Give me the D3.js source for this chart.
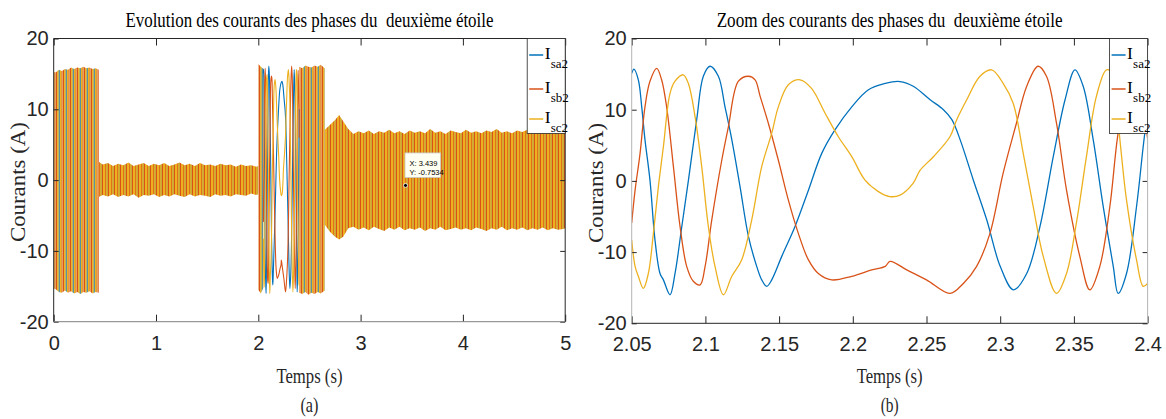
<!DOCTYPE html>
<html>
<head>
<meta charset="utf-8">
<script src="https://cdn.jsdelivr.net/npm/d3@7/dist/d3.min.js"></script>
<style>
body { margin: 0; background: #fff; }
svg { display: block; }
</style>
</head>
<body>
<script>
// ---- values ----
var phaseNames = ["sa2", "sb2", "sc2"];
var phaseColors = ["#0072BD", "#D95319", "#EDB120"];

// panel (a): x / y ticks
var xTicksA = [0, 1, 2, 3, 4, 5];
var xLabelsA = ["0", "1", "2", "3", "4", "5"];
var yTicks = [-20, -10, 0, 10, 20];
var yLabels = ["-20", "-10", "0", "10", "20"];
// panel (b): x ticks
var xTicksB = [2.05, 2.1, 2.15, 2.2, 2.25, 2.3, 2.35, 2.4];
var xLabelsB = ["2.05", "2.1", "2.15", "2.2", "2.25", "2.3", "2.35", "2.4"];

// zoom window 2.05..2.4 s : [t, current]
var isa2 = [[2.05,15.1],[2.0515,15.7],[2.0545,14.2],[2.0568,10.4],[2.059,5.8],[2.0624,0.1],[2.0658,-8.3],[2.0692,-13],[2.0715,-13.9],[2.076,-16],[2.0794,-13],[2.084,-6.4],[2.0885,0.1],[2.0941,8.6],[2.0986,14.7],[2.1031,16.1],[2.1088,14.7],[2.1133,10.4],[2.1179,5.8],[2.1235,-0.8],[2.1292,-7.8],[2.1348,-12],[2.1382,-13.9],[2.1416,-14.8],[2.145,-13.9],[2.1518,-10.6],[2.1608,-6.4],[2.1699,-1.3],[2.179,3.9],[2.188,7.2],[2.1993,10.4],[2.2106,12.8],[2.222,13.7],[2.232,13.95],[2.241,13.3],[2.2525,11.4],[2.2615,10.0],[2.2672,8.6],[2.2728,5.8],[2.2818,0.1],[2.2909,-5.5],[2.3,-12],[2.309,-15.3],[2.318,-13],[2.327,-6.4],[2.336,3.4],[2.344,11.4],[2.3507,15.6],[2.3563,13.3],[2.3631,5.8],[2.3699,-3.6],[2.3767,-12],[2.38,-15.8],[2.3857,-13],[2.3925,-3.6],[2.397,4.8],[2.4,10]];
var isb2 = [[2.05,-5.9],[2.0523,-1.3],[2.0557,3.9],[2.059,10.4],[2.0624,14],[2.067,15.8],[2.0703,14.2],[2.0737,10.4],[2.0783,2],[2.0828,-6.4],[2.0873,-12],[2.0918,-14.1],[2.0964,-14.6],[2.0998,-12],[2.1043,-5.5],[2.1111,2.9],[2.1156,7.6],[2.1224,14],[2.1292,14.7],[2.1337,14.2],[2.1371,11.9],[2.1427,8.1],[2.1495,2.9],[2.1563,-2.7],[2.1631,-7.4],[2.1699,-11.1],[2.1766,-13],[2.1857,-13.9],[2.1993,-13.4],[2.2128,-12.5],[2.222,-12],[2.2253,-11.3],[2.2366,-12.5],[2.25,-13.9],[2.2659,-15.8],[2.275,-14.4],[2.284,-12],[2.293,-7.4],[2.302,1.1],[2.311,8.1],[2.318,13.3],[2.3257,16.1],[2.3314,14.7],[2.3382,8.1],[2.345,-1.3],[2.354,-10.6],[2.3608,-15.3],[2.3676,-12],[2.3744,-3.6],[2.38,6.7],[2.3857,12.5],[2.3895,15.5],[2.3945,12.5],[2.4,6]];
var isc2 = [[2.05,-8.3],[2.0523,-12],[2.0545,-13.4],[2.0579,-15.1],[2.0613,-13],[2.0647,-7.4],[2.0681,-0.8],[2.0715,4.8],[2.076,12.3],[2.0794,14],[2.085,14.9],[2.0884,13.7],[2.093,9],[2.0975,2],[2.102,-6.4],[2.1065,-12],[2.1122,-16],[2.1179,-13.4],[2.1246,-11.1],[2.1314,-5.5],[2.1382,2],[2.145,6.7],[2.1495,10.4],[2.1563,13.5],[2.1642,14.2],[2.172,13],[2.1812,9.5],[2.1902,6.2],[2.1993,3.4],[2.2083,0.1],[2.2174,-1.5],[2.225,-2.2],[2.232,-2],[2.241,-0.3],[2.2457,1.5],[2.2547,3.4],[2.2659,6.2],[2.2705,8.6],[2.2773,11.4],[2.2863,14.7],[2.2942,15.6],[2.302,13.7],[2.3088,10.9],[2.3156,3.9],[2.3224,-3.6],[2.3292,-10.6],[2.3382,-15.8],[2.345,-13],[2.3517,-5.9],[2.3585,3.4],[2.3653,11.9],[2.3721,15.6],[2.3766,15.1],[2.3812,5.8],[2.3857,-2.7],[2.3925,-11.1],[2.397,-14.8],[2.4,-14.4]];

// panel (a): envelope of the dense oscillation [t, upper, lower]
var startBand = [[0,15.3,-15.3],[0.02,15.2,-15.4],[0.05,15.6,-15.8],[0.08,15.4,-15.9],[0.11,15.7,-15.6],[0.14,15.6,-15.9],[0.17,15.9,-15.7],[0.2,15.7,-16.0],[0.23,15.9,-15.8],[0.26,15.8,-16.1],[0.29,16.0,-15.8],[0.32,15.8,-15.9],[0.35,15.9,-15.7],[0.38,15.7,-16.0],[0.41,15.8,-15.8],[0.44,15.6,-15.9]];
var idleBand = [[0.44,2.6,-2.4],[0.48,2.2,-2.1],[0.53,2.4,-2.3],[0.58,2.0,-2.0],[0.63,2.3,-2.4],[0.68,2.1,-2.1],[0.73,2.5,-2.3],[0.78,2.0,-2.0],[0.83,2.2,-2.5],[0.88,2.4,-2.1],[0.93,2.0,-2.2],[0.98,2.3,-2.0],[1.03,2.1,-2.4],[1.08,2.4,-2.1],[1.13,2.0,-2.3],[1.18,2.2,-2.0],[1.23,2.5,-2.2],[1.28,2.1,-2.4],[1.33,2.3,-2.0],[1.38,2.0,-2.3],[1.43,2.4,-2.1],[1.48,2.1,-2.2],[1.53,2.2,-2.4],[1.58,2.0,-2.0],[1.63,2.3,-2.2],[1.68,2.1,-2.1],[1.73,2.2,-2.3],[1.78,1.9,-2.0],[1.83,2.2,-2.1],[1.88,2.0,-2.2],[1.93,2.1,-1.9],[1.98,1.9,-2.1],[2.0,2.0,-2.0]];
var jumpBand = [[2.0,16.4,-15.5],[2.025,16.0,-16.0],[2.05,15.7,-15.2]];
var revBand = [[2.4,16.0,-15.9],[2.43,15.8,-16.1],[2.46,16.2,-15.8],[2.49,16.0,-16.2],[2.52,15.9,-15.9],[2.55,16.2,-16.1],[2.58,16.0,-15.8],[2.61,16.3,-16.0],[2.64,15.9,-15.7],[2.65,15.8,-15.6]];
var loadBand = [[2.65,7.1,-6.3],[2.7,7.8,-7.3],[2.75,8.5,-8.0],[2.79,9.2,-8.4],[2.83,8.3,-8.0],[2.88,7.2,-6.8],[2.93,6.5,-6.6],[2.98,6.9,-7.0],[3.03,6.6,-6.7],[3.08,7.0,-7.1],[3.13,6.5,-6.6],[3.18,6.9,-6.9],[3.23,6.7,-7.2],[3.28,7.1,-6.7],[3.33,6.6,-7.0],[3.38,6.9,-6.6],[3.43,6.5,-7.1],[3.48,7.0,-6.8],[3.53,6.7,-7.0],[3.58,6.9,-6.7],[3.63,6.6,-7.2],[3.68,7.2,-6.8],[3.73,6.7,-7.0],[3.78,6.9,-6.6],[3.83,6.5,-7.1],[3.88,7.0,-6.9],[3.93,6.8,-6.7],[3.98,6.6,-7.0],[4.03,7.1,-6.8],[4.08,6.7,-7.1],[4.13,6.9,-6.7],[4.18,6.6,-6.9],[4.23,7.0,-7.2],[4.28,6.8,-6.8],[4.33,7.2,-7.0],[4.38,6.7,-6.6],[4.43,6.9,-7.1],[4.48,6.6,-6.8],[4.53,7.0,-7.0],[4.58,6.8,-6.7],[4.63,7.1,-7.1],[4.68,6.7,-6.8],[4.73,6.9,-7.0],[4.78,7.2,-6.7],[4.83,6.8,-7.1],[4.88,7.0,-6.8],[4.93,6.7,-7.0],[4.98,7.1,-6.9],[5.0,6.9,-6.8]];

// data tip on panel (a)
var tipPoint = [3.439, -0.7534];

var serif = "'Liberation Serif','Times New Roman',serif";
var narrow = "'Liberation Sans Narrow','Arial Narrow','Liberation Sans',sans-serif";
var axisColor = "#262626";

var svg = d3.select("body").append("svg")
    .attr("width", 1166)
    .attr("height", 419);

var defs = svg.append("defs");

// stripe patterns used to paint the dense bands
function stripes(id, w, bg, bars) {
    var p = defs.append("pattern")
        .attr("id", id)
        .attr("patternUnits", "userSpaceOnUse")
        .attr("width", w)
        .attr("height", 10);
    p.append("rect").attr("width", w).attr("height", 10).attr("fill", bg);
    bars.forEach(function (b) {
        p.append("rect")
            .attr("x", b[0]).attr("width", b[1]).attr("height", 10)
            .attr("fill", b[2]).attr("opacity", b[3] == null ? 1 : b[3]);
    });
}
stripes("densePat", 6, "#EDB120", [[0, 1, "#D95319"], [3, 0.8, "#D95319", 0.85], [4.8, 0.5, "#0072BD", 0.45]]);
stripes("sparsePat", 7, "#F2D38E", [[0, 1.1, "#D95319"], [1.1, 1.5, "#EDB120"], [2.8, 0.9, "#0072BD"], [3.9, 1.6, "#EDB120"], [5.6, 0.8, "#D95319"]]);

function panel(box, xDom, xTicks, xLabels, title, titleLen, sub, frame) {
    var x = d3.scaleLinear().domain(xDom).range([box.left, box.right]);
    var y = d3.scaleLinear().domain([-20, 20]).range([box.bottom, box.top]);
    var clipId = "clip" + sub;
    defs.append("clipPath").attr("id", clipId)
        .append("rect")
        .attr("x", box.left).attr("y", box.top)
        .attr("width", box.right - box.left).attr("height", box.bottom - box.top);

    var plot = svg.append("g").attr("clip-path", "url(#" + clipId + ")");

    // labels
    var cx = (box.left + box.right) / 2;
    svg.append("text")
        .attr("x", cx).attr("y", 27)
        .attr("text-anchor", "middle")
        .attr("textLength", titleLen).attr("lengthAdjust", "spacingAndGlyphs")
        .style("white-space", "pre")
        .style("font-family", serif).style("font-size", "20.5px").attr("fill", "#000")
        .text(title);
    svg.append("text")
        .attr("x", cx).attr("y", 383)
        .attr("text-anchor", "middle")
        .attr("textLength", 66).attr("lengthAdjust", "spacingAndGlyphs")
        .style("font-family", serif).style("font-size", "22px").attr("fill", "#262626")
        .text("Temps (s)");
    svg.append("text")
        .attr("x", cx).attr("y", 412)
        .attr("text-anchor", "middle")
        .attr("textLength", 18).attr("lengthAdjust", "spacingAndGlyphs")
        .style("font-family", serif).style("font-size", "21px").attr("fill", "#262626")
        .text("(" + sub + ")");
    svg.append("text")
        .attr("transform", "translate(" + (box.left - 29) + "," + ((box.top + box.bottom) / 2 + 2) + ") rotate(-90)")
        .attr("text-anchor", "middle")
        .attr("textLength", 120).attr("lengthAdjust", "spacingAndGlyphs")
        .style("font-family", serif).style("font-size", "22px").attr("fill", "#262626")
        .text("Courants (A)");

    return {x: x, y: y, plot: plot, box: box, xTicks: xTicks, xLabels: xLabels, frame: frame};
}

function drawFrame(p) {
    var box = p.box;
    var gx = svg.append("g")
        .attr("transform", "translate(0," + box.bottom + ")")
        .call(d3.axisBottom(p.x).tickValues(p.xTicks)
            .tickFormat(function (d, i) { return p.xLabels[i]; })
            .tickSizeInner(-7).tickSizeOuter(0).tickPadding(14));
    var gt = svg.append("g")
        .attr("transform", "translate(0," + box.top + ")")
        .call(d3.axisTop(p.x).tickValues(p.xTicks).tickFormat("").tickSizeInner(-7).tickSizeOuter(0));
    var gy = svg.append("g")
        .attr("transform", "translate(" + box.left + ",0)")
        .call(d3.axisLeft(p.y).tickValues(yTicks)
            .tickFormat(function (d, i) { return yLabels[i]; })
            .tickSizeInner(-5).tickSizeOuter(0).tickPadding(5));
    var gr = svg.append("g")
        .attr("transform", "translate(" + box.right + ",0)")
        .call(d3.axisRight(p.y).tickValues(yTicks).tickFormat("").tickSizeInner(-5).tickSizeOuter(0));
    [gx, gt, gy, gr].forEach(function (g) {
        g.select(".domain").remove();
        g.selectAll("line").attr("stroke", axisColor);
        g.selectAll("text")
            .style("font-family", narrow).style("font-size", "20px")
            .attr("fill", axisColor);
    });
    var f = p.frame;
    svg.append("line").attr("x1", box.left).attr("x2", box.right).attr("y1", box.top).attr("y2", box.top).attr("stroke", f.top);
    svg.append("line").attr("x1", box.left).attr("x2", box.right).attr("y1", box.bottom).attr("y2", box.bottom).attr("stroke", f.bottom);
    svg.append("line").attr("x1", box.left).attr("x2", box.left).attr("y1", box.top).attr("y2", box.bottom).attr("stroke", f.left);
    svg.append("line").attr("x1", box.right).attr("x2", box.right).attr("y1", box.top).attr("y2", box.bottom).attr("stroke", f.right);
}

function drawLegend(p) {
    var lx = p.box.right - 38, top = p.box.top;
    var lg = svg.append("g");
    lg.append("rect")
        .attr("x", lx).attr("y", top)
        .attr("width", p.box.right - lx).attr("height", 95)
        .attr("fill", "#fff").attr("stroke", axisColor).attr("stroke-width", 0.8);
    var rows = [16.5, 50.5, 80.5];
    phaseNames.forEach(function (name, i) {
        var ly = top + rows[i];
        lg.append("line")
            .attr("x1", lx + 2).attr("x2", lx + 16)
            .attr("y1", ly).attr("y2", ly)
            .attr("stroke", phaseColors[i]).attr("stroke-width", 1.5);
        lg.append("text")
            .attr("x", lx + 17.5).attr("y", ly + 4)
            .style("font-family", serif).style("font-size", "17.5px").attr("fill", "#000")
            .text("I");
        lg.append("text")
            .attr("x", lx + 23.5).attr("y", ly + 13)
            .style("font-family", serif).style("font-size", "13px").attr("fill", "#000")
            .text(name);
    });
}

var lineGen = function (p) {
    return d3.line()
        .x(function (d) { return p.x(d[0]); })
        .y(function (d) { return p.y(d[1]); })
        .curve(d3.curveCatmullRom);
};
var series = [isa2, isb2, isc2];

// ---------- panel (a) ----------
var pa = panel({left: 53.7, right: 565.2, top: 38.5, bottom: 321.7}, [0, 5], xTicksA, xLabelsA,
    "Evolution des courants des phases du  deuxième étoile", 368, "a",
    {top: axisColor, bottom: "#808080", left: axisColor, right: axisColor});

var bandArea = d3.area()
    .x(function (d) { return pa.x(d[0]); })
    .y1(function (d) { return pa.y(d[1]); })
    .y0(function (d) { return pa.y(d[2]); });

[[startBand, "sparsePat"], [idleBand, "densePat"], [jumpBand, "sparsePat"],
 [revBand, "sparsePat"], [loadBand, "densePat"]].forEach(function (b) {
    pa.plot.append("path")
        .datum(b[0])
        .attr("d", bandArea)
        .attr("fill", "url(#" + b[1] + ")");
});

series.forEach(function (s, i) {
    pa.plot.append("path")
        .datum(s)
        .attr("d", lineGen(pa))
        .attr("fill", "none")
        .attr("stroke", phaseColors[i])
        .attr("stroke-width", 1.1);
});

drawFrame(pa);
drawLegend(pa);

// data tip
var tx = pa.x(tipPoint[0]), ty = pa.y(tipPoint[1]);
svg.append("rect")
    .attr("x", tx - 0.5).attr("y", ty - 32.5)
    .attr("width", 35.5).attr("height", 24.5)
    .attr("fill", "#fffff2").attr("stroke", "#c8c8c8").attr("stroke-width", 0.8);
svg.append("text")
    .attr("x", tx + 4).attr("y", ty - 19.5)
    .style("font-family", narrow).style("font-size", "7.5px").attr("fill", "#000")
    .text("X: " + tipPoint[0]);
svg.append("text")
    .attr("x", tx + 4).attr("y", ty - 10.5)
    .style("font-family", narrow).style("font-size", "7.5px").attr("fill", "#000")
    .text("Y: " + tipPoint[1]);
svg.append("circle")
    .attr("cx", tx).attr("cy", ty).attr("r", 2)
    .attr("fill", "#000").attr("stroke", "#fff").attr("stroke-width", 0.8);

// ---------- panel (b) ----------
var pb = panel({left: 631.7, right: 1147.6, top: 38.5, bottom: 323.3}, [2.05, 2.4], xTicksB, xLabelsB,
    "Zoom des courants des phases du  deuxième étoile", 346, "b",
    {top: axisColor, bottom: axisColor, left: "#b4b4b4", right: "#b4b4b4"});

series.forEach(function (s, i) {
    pb.plot.append("path")
        .datum(s)
        .attr("d", lineGen(pb))
        .attr("fill", "none")
        .attr("stroke", phaseColors[i])
        .attr("stroke-width", 1.3);
});

drawFrame(pb);
drawLegend(pb);
</script>
</body>
</html>
